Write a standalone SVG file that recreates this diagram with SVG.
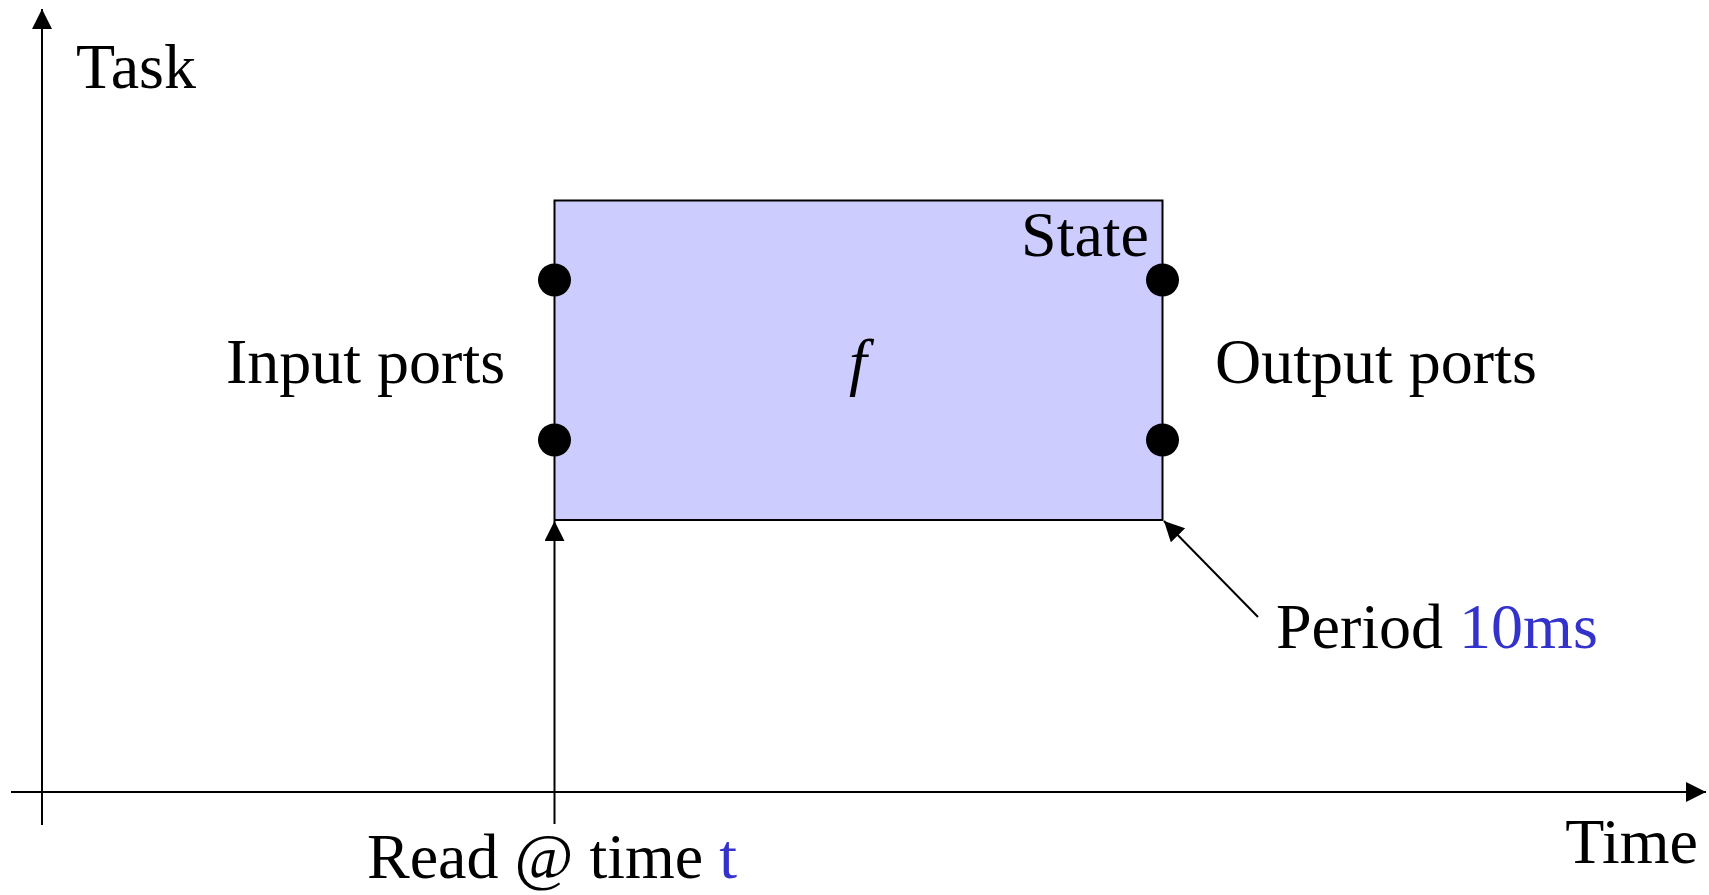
<svg xmlns="http://www.w3.org/2000/svg" width="1709" height="895" viewBox="0 0 1709 895">
<style>
text{font-family:"Liberation Serif","Times New Roman",serif;font-size:64px;fill:#000}
.b{fill:#3333CC}
.ln{stroke:#000;stroke-width:2;fill:none}
.port{fill:#000}
</style>
<defs>
<marker id="ah" markerWidth="20" markerHeight="20" refX="20" refY="10" orient="auto" markerUnits="userSpaceOnUse">
<path d="M0,0 L20,10 L0,20 Z" fill="#000"/>
</marker>
</defs>
<rect width="1709" height="895" fill="#fff"/>
<g id="connectors">
<line class="ln" x1="42" y1="825" x2="42" y2="9" marker-end="url(#ah)"/>
<line class="ln" x1="11" y1="792" x2="1706" y2="792" marker-end="url(#ah)"/>
<line class="ln" x1="554.5" y1="824" x2="554.5" y2="521" marker-end="url(#ah)"/>
<line class="ln" x1="1258" y1="617" x2="1164" y2="521" marker-end="url(#ah)"/>
</g>
<g id="task-box">
<rect x="554.5" y="200.5" width="608" height="319.5" fill="#CCCCFF" stroke="#000" stroke-width="2"/>
<text x="1149" y="256" text-anchor="end">State</text>
<text x="858" y="383" text-anchor="middle" font-style="italic">f</text>
</g>
<g id="ports">
<circle class="port" cx="554.5" cy="280" r="16.5"/>
<circle class="port" cx="554.5" cy="440" r="16.5"/>
<circle class="port" cx="1162.5" cy="280" r="16.5"/>
<circle class="port" cx="1162.5" cy="440" r="16.5"/>
</g>
<g id="labels">
<text x="76" y="88">Task</text>
<text x="1698" y="863" text-anchor="end">Time</text>
<text x="226" y="383">Input ports</text>
<text x="1215" y="383">Output ports</text>
<text x="1276" y="648">Period <tspan class="b">10ms</tspan></text>
<text x="367" y="878">Read @ time <tspan class="b">t</tspan></text>
</g>
</svg>
